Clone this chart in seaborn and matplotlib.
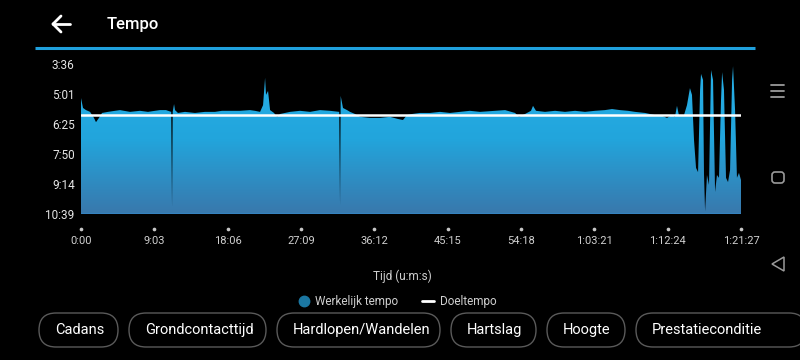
import numpy as np
import pandas as pd
import seaborn as sns
import matplotlib
matplotlib.use("Agg")
import matplotlib.pyplot as plt
import matplotlib.transforms as mtransforms
from matplotlib.colors import LinearSegmentedColormap
from matplotlib.lines import Line2D
from matplotlib.patches import FancyBboxPatch, Polygon

# ---------------- data ----------------
time_s = [0, 15, 37, 67, 96, 111, 133, 156, 200, 252, 289, 318, 363, 437, 496, 548, 585, 629, 668,
          674, 679, 689, 696, 718, 770, 844, 918, 992, 1044, 1103, 1177, 1251, 1288, 1326, 1348,
          1363, 1370, 1385, 1400, 1429, 1452, 1474, 1548, 1622, 1696, 1770, 1844, 1912, 1918, 1923,
          1940, 1970, 1992, 2029, 2066, 2140, 2214, 2288, 2347, 2384, 2414, 2451, 2510, 2584, 2658,
          2732, 2880, 2954, 3066, 3140, 3214, 3243, 3288, 3332, 3347, 3369, 3436, 3510, 3584, 3658,
          3732, 3806, 3880, 3932, 3991, 4050, 4102, 4176, 4250, 4302, 4339, 4376, 4398, 4413, 4428,
          4465, 4487, 4509, 4524, 4539, 4554, 4569, 4584, 4591, 4606, 4613, 4621, 4635, 4650, 4665,
          4680, 4695, 4709, 4724, 4739, 4747, 4761, 4776, 4791, 4806, 4821, 4828, 4843, 4857, 4872,
          4887]
pace_s = [312, 340, 346, 351, 368, 380, 368, 354, 351, 348, 346, 348, 351, 348, 351, 348, 346, 346, 351,
          619, 351, 329, 346, 354, 351, 354, 351, 351, 348, 348, 348, 346, 348, 351, 332,
          255, 303, 292, 346, 354, 365, 357, 351, 348, 351, 346, 348, 351, 614, 306,
          340, 346, 351, 357, 365, 368, 368, 365, 371, 374, 360, 357, 354, 354, 351,
          354, 348, 351, 348, 346, 354, 365, 357, 348, 334, 348, 351, 348, 351, 348,
          351, 348, 346, 343, 346, 348, 351, 354, 360, 362, 368, 360, 365, 334, 362,
          360, 332, 284, 303, 430, 509, 521, 289, 244, 261, 526, 631, 529, 557, 233,
          261, 577, 529, 537, 318, 239, 289, 537, 549, 515, 261, 222, 346, 537, 523,
          543]
target_pace = 360

y_ticks = [216, 300.6, 385.2, 469.8, 554.4, 639]
y_labels = ["3:36", "5:01", "6:25", "7:50", "9:14", "10:39"]
x_ticks = [0, 543, 1086, 1629, 2172, 2715, 3258, 3801, 4344, 4887]
x_labels = ["0:00", "9:03", "18:06", "27:09", "36:12", "45:15", "54:18", "1:03:21", "1:12:24", "1:21:27"]

title = "Tempo"
x_title = "Tijd (u:m:s)"
legend_labels = ["Werkelijk tempo", "Doeltempo"]
buttons = ["Cadans", "Grondcontacttijd", "Hardlopen/Wandelen", "Hartslag", "Hoogte", "Prestatieconditie"]
button_edges = [(39, 118), (129, 266), (277, 440), (451, 536), (547, 625), (636, 806)]

# ---------------- style ----------------
sns.set_theme(style="dark")
plt.rcParams["font.family"] = ["Roboto", "DejaVu Sans"]

W, H = 800, 360
fig = plt.figure(figsize=(W / 100, H / 100), dpi=100, facecolor="black")

# overlay axes in pixel coordinates (screen chrome)
ov = fig.add_axes([0, 0, 1, 1], zorder=0)
ov.set_xlim(0, W)
ov.set_ylim(H, 0)
ov.axis("off")
ov.set_facecolor("black")

ax = fig.add_axes([81 / W, 1 - 214 / H, 660 / W, 150 / H], zorder=2)
ax.set_facecolor("black")

df = pd.DataFrame({"t": time_s, "p": pace_s})

# gradient area fill
fill = ax.fill_between(df["t"], df["p"], y_ticks[-1], color="none", lw=0)
grad = np.linspace(0, 1, 256).reshape(-1, 1)
cmap = LinearSegmentedColormap.from_list("g", ["#27b0e8", "#22a5dc", "#3978ac"])
im = ax.imshow(grad, cmap=cmap, aspect="auto",
               extent=[time_s[0], time_s[-1], y_ticks[-1], y_ticks[0]],
               origin="upper", zorder=1, interpolation="bilinear")
im.set_clip_path(fill.get_paths()[0], ax.transData)

# bottom edge of area
ax.plot([time_s[0], time_s[-1]], [y_ticks[-1], y_ticks[-1]], color="#3582bf", lw=1.6, zorder=2,
        solid_capstyle="butt")

# target line
sns.lineplot(x=[time_s[0], time_s[-1]], y=[target_pace, target_pace], ax=ax, color="white",
             lw=1.8, zorder=3)

ax.set_xlim(time_s[0], time_s[-1])
ax.set_ylim(y_ticks[-1], y_ticks[0])
for s in ax.spines.values():
    s.set_visible(False)
ax.grid(False)

ax.set_yticks(y_ticks, y_labels)
ax.set_xticks(x_ticks, x_labels)
ax.tick_params(axis="y", length=0, pad=4.5, labelsize=8.5, labelcolor="#e6e6e6")
ax.tick_params(axis="x", length=0, pad=16, labelsize=8, labelcolor="#d0d0d0")
ax.set_xlabel("")
ax.set_ylabel("")

# dots above x labels
blend = mtransforms.blended_transform_factory(ax.transData, ax.transAxes)
ax.scatter(x_ticks, [-0.1] * len(x_ticks), s=7, color="#c8c8c8", transform=blend,
           clip_on=False, zorder=5, linewidths=0)

# axis title
ov.text(402, 276, x_title, ha="center", va="center", fontsize=8.5, color="#cfcfcf")

# legend
handles = [Line2D([], [], marker="o", ls="", color="#1b77a2", markersize=7.5),
           Line2D([], [], color="white", lw=2)]
fig.legend(handles, legend_labels, loc="center", bbox_to_anchor=(397 / W, 1 - 302 / H), ncol=2,
           frameon=False, fontsize=8.5, labelcolor="#cfcfcf", handlelength=1.0,
           handletextpad=0.5, columnspacing=2.0, borderpad=0)

# header
ov.text(107, 24, title, ha="left", va="center", fontsize=12, color="white", fontweight="medium")
for (x0, y0), (x1, y1) in [[(53, 24), (70, 24)], [(53, 24), (61, 16)], [(53, 24), (61, 32)]]:
    ov.plot([x0, x1], [y0, y1], color="white", lw=2, solid_capstyle="round")
ov.plot([35, 755], [48, 48], color="#1fa0dd", lw=2.2, solid_capstyle="butt")

# chip buttons
for label, (x0, x1) in zip(buttons, button_edges):
    box = FancyBboxPatch((x0, 313), x1 - x0, 34, boxstyle="round,pad=0,rounding_size=17",
                         facecolor="black", edgecolor="#5a5a5a", lw=1.0)
    ov.add_patch(box)
    ov.text(x0 + 16, 330, label, ha="left", va="center", fontsize=10.5, color="white")

# android navigation icons
for yy in [85, 91, 97]:
    ov.plot([771, 784], [yy, yy], color="#9a9a9a", lw=1.3)
ov.add_patch(FancyBboxPatch((772, 172), 12, 11, boxstyle="round,pad=0,rounding_size=3",
                            facecolor="none", edgecolor="#9a9a9a", lw=1.2))
ov.add_patch(Polygon([(772, 264), (784, 257), (784, 271)], closed=True,
                     facecolor="none", edgecolor="#9a9a9a", lw=1.1))

fig.savefig("out.png", dpi=100, facecolor="black")
